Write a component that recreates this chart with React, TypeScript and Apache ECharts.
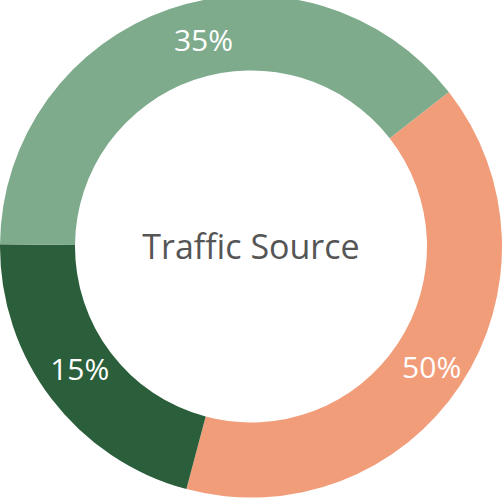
import React, { useEffect, useRef } from "react";
import * as echarts from "echarts";

const categories = ["Paid", "Referral", "Organic"];
const sliceValues = [39.7, 21, 39.3];
const labelTexts = ["50%", "15%", "35%"];
const sliceColors = ["#F19D7A", "#2B5E3B", "#7EAB8C"];
const labelNudges = [
  [0, 1],
  [1, -9],
  [22, -2],
];
const centerTitle = "Traffic Source";

export default function App() {
  const ref = useRef<HTMLDivElement>(null);
  useEffect(() => {
    if (!ref.current) return;
    const chart = echarts.init(ref.current, null, { renderer: "svg" });
    chart.setOption({
      animation: false,
      graphic: [
        {
          type: "text",
          x: 251,
          y: 246,
          style: {
            text: centerTitle,
            fill: "#555555",
            font: "34px 'Open Sans'",
            textAlign: "center",
            textVerticalAlign: "middle",
          },
        },
      ],
      series: [
        {
          type: "pie",
          center: [251, 246.5],
          radius: [176, 251],
          startAngle: 38,
          clockwise: true,
          avoidLabelOverlap: false,
          label: {
            show: true,
            position: "inside",
            color: "#ffffff",
            fontFamily: "Open Sans",
            fontSize: 30,
            formatter: (p: any) => labelTexts[p.dataIndex],
          },
          labelLayout: (p: any) => ({
            dx: labelNudges[p.dataIndex][0],
            dy: labelNudges[p.dataIndex][1],
          }),
          labelLine: { show: false },
          itemStyle: { borderWidth: 0 },
          emphasis: { disabled: true },
          data: categories.map((c, i) => ({
            name: c,
            value: sliceValues[i],
            itemStyle: { color: sliceColors[i] },
          })),
        },
      ],
    });
    return () => chart.dispose();
  }, []);
  return (
    <div
      ref={ref}
      style={{ position: "absolute", left: 0, top: 0, width: 504, height: 499 }}
    />
  );
}
